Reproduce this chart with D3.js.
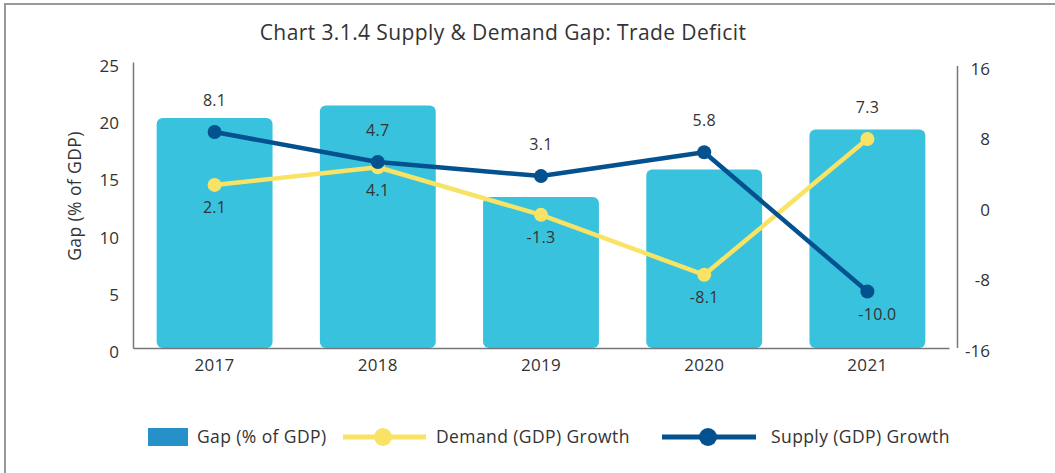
<!DOCTYPE html>
<html>
<head>
<meta charset="utf-8">
<script src="https://cdn.jsdelivr.net/npm/d3@7"></script>
<style>
  body { margin: 0; background: #fff; }
  text { font-family: "Open Sans", sans-serif; fill: #333; }
</style>
</head>
<body>
<svg width="1055" height="473"></svg>
<script>
// chart values
var years = ["2017", "2018", "2019", "2020", "2021"];
var gap = [20.1, 21.2, 13.2, 15.6, 19.1];
var demand = [2.1, 4.1, -1.3, -8.1, 7.3];
var supply = [8.1, 4.7, 3.1, 5.8, -10.0];
var leftTicks = [0, 5, 10, 15, 20, 25];
var rightTicks = [-16, -8, 0, 8, 16];

var barColor = "#39c2de",
    swatchColor = "#2690c9",
    demandColor = "#f9e364",
    supplyColor = "#03528f",
    axisColor = "#777";

var svg = d3.select("svg");

// frame
svg.append("rect")
    .attr("x", 5).attr("y", 4)
    .attr("width", 1080).attr("height", 500)
    .attr("fill", "none")
    .attr("stroke", "#999")
    .attr("stroke-width", 2);

// title
svg.append("text")
    .attr("x", 503).attr("y", 33)
    .attr("dy", "0.35em")
    .attr("text-anchor", "middle")
    .attr("font-size", 21)
    .attr("letter-spacing", 0.4)
    .text("Chart 3.1.4 Supply & Demand Gap: Trade Deficit");

// scales
var x = d3.scaleBand()
    .domain(years)
    .range([133, 949])
    .paddingInner(0.29)
    .paddingOuter(0.145);

var yL = d3.scaleLinear().domain([0, 25]).range([348, 62]);
var yR = d3.scaleLinear().domain([-16, 16]).range([344.4, 62.4]);

// bars
svg.append("g")
  .selectAll("rect")
  .data(gap)
  .enter().append("rect")
    .attr("x", function(d, i) { return x(years[i]); })
    .attr("y", function(d) { return yL(d); })
    .attr("width", x.bandwidth())
    .attr("height", function(d) { return yL(0) - yL(d); })
    .attr("rx", 6)
    .attr("fill", barColor);

// left axis
var gL = svg.append("g")
    .attr("transform", "translate(133,0)")
    .call(d3.axisLeft(yL).tickValues(leftTicks).tickSize(0).tickPadding(14));
gL.select(".domain").attr("stroke", axisColor).attr("stroke-width", 1.5);
gL.selectAll("text")
    .attr("font-size", 17)
    .attr("fill", "#333")
    .attr("font-family", null)
    .attr("transform", "translate(0,4)");

// right axis
var gR = svg.append("g")
    .attr("transform", "translate(957,0)")
    .call(d3.axisRight(yR).tickValues(rightTicks).tickFormat(String).tickSize(0).tickPadding(33));
gR.select(".domain").attr("stroke", axisColor).attr("stroke-width", 1.5)
    .attr("transform", "translate(0,3)");
gR.selectAll("text")
    .attr("font-size", 17)
    .attr("fill", "#333")
    .attr("font-family", null)
    .attr("text-anchor", "end")
    .attr("transform", "translate(0,6.5)");

// bottom axis
var gB = svg.append("g")
    .attr("transform", "translate(0,348)")
    .call(d3.axisBottom(x).tickSize(0).tickPadding(11));
gB.select(".domain").attr("stroke", axisColor).attr("stroke-width", 1.5);
gB.selectAll("text")
    .attr("font-size", 17)
    .attr("letter-spacing", 0.3)
    .attr("fill", "#333")
    .attr("font-family", null);

// left axis title
svg.append("text")
    .attr("transform", "translate(75,196) rotate(-90)")
    .attr("dy", "0.35em")
    .attr("text-anchor", "middle")
    .attr("font-size", 17.5)
    .attr("letter-spacing", 0.4)
    .text("Gap (% of GDP)");

// lines
var cx = function(i) { return x(years[i]) + x.bandwidth() / 2; };
var line = d3.line()
    .x(function(d, i) { return cx(i); })
    .y(function(d) { return yR(d); });

[[demand, demandColor], [supply, supplyColor]].forEach(function(s) {
  svg.append("path")
      .datum(s[0])
      .attr("d", line)
      .attr("fill", "none")
      .attr("stroke", s[1])
      .attr("stroke-width", 4.5)
      .attr("stroke-linejoin", "round");
});

[[demand, demandColor], [supply, supplyColor]].forEach(function(s) {
  svg.append("g")
    .selectAll("circle")
    .data(s[0])
    .enter().append("circle")
      .attr("cx", function(d, i) { return cx(i); })
      .attr("cy", function(d) { return yR(d); })
      .attr("r", 7)
      .attr("fill", s[1]);
});

// value labels: higher series above, lower below
function labels(vals, other) {
  svg.append("g")
    .selectAll("text")
    .data(vals)
    .enter().append("text")
      .attr("x", function(d, i) { return cx(i) + (d <= -10 ? 10 : 0); })
      .attr("y", function(d, i) { return d >= other[i] ? yR(d) - 32 : yR(d) + 23; })
      .attr("dy", "0.35em")
      .attr("text-anchor", "middle")
      .attr("font-size", 16)
      .attr("letter-spacing", 0.3)
      .text(function(d) { return d.toFixed(1); });
}
labels(supply, demand);
labels(demand, supply);

// legend
var lg = svg.append("g").attr("font-size", 17.5).attr("letter-spacing", 0.4);
lg.append("rect")
    .attr("x", 148).attr("y", 428)
    .attr("width", 40).attr("height", 18)
    .attr("fill", swatchColor);
lg.append("text").attr("x", 197).attr("y", 437).attr("dy", "0.35em").text("Gap (% of GDP)");

[[343, 426, 383, 436, demandColor, "Demand (GDP) Growth"],
 [662, 756, 708, 771, supplyColor, "Supply (GDP) Growth"]].forEach(function(l) {
  lg.append("line")
      .attr("x1", l[0]).attr("x2", l[1])
      .attr("y1", 437).attr("y2", 437)
      .attr("stroke", l[4]).attr("stroke-width", 5);
  lg.append("circle")
      .attr("cx", l[2]).attr("cy", 437).attr("r", 9)
      .attr("fill", l[4]);
  lg.append("text").attr("x", l[3]).attr("y", 437).attr("dy", "0.35em").text(l[5]);
});
</script>
</body>
</html>
